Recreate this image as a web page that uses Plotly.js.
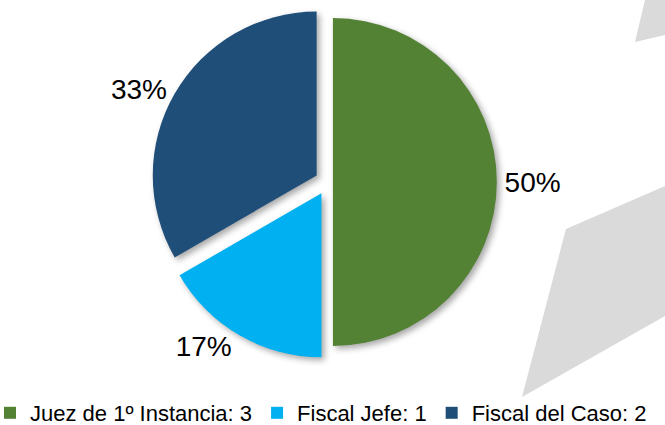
<!DOCTYPE html>
<html>
<head>
<meta charset="utf-8">
<script src="https://cdn.plot.ly/plotly-3.0.1.min.js"></script>
<style>
  html, body { margin: 0; padding: 0; background: #ffffff; }
  #chart { width: 665px; height: 425px; }
  .slice path.surface { filter: drop-shadow(3px 3px 3px rgba(0,0,0,0.35)); }
</style>
</head>
<body>
<div id="chart"></div>
<script>
// ---- data ----
const categories = ["Juez de 1º Instancia", "Fiscal Jefe", "Fiscal del Caso"];
const counts = [3, 1, 2];
const sliceColors = ["#548235", "#00B0F0", "#1F4E79"];
const pulls = [0.03, 0.08, 0.08];

const legendLabels = categories.map((c, i) => c + ": " + counts[i]);

const W = 665, H = 425;
const M = { l: 0, r: 0, t: 0, b: 45 };
const PW = W - M.l - M.r, PH = H - M.t - M.b;
function px(x) { return (x - M.l) / PW; }
function py(y) { return (H - M.b - y) / PH; }
function poly(pts) {
  return pts.map((p, i) => (i ? "L" : "M") + px(p[0]).toFixed(4) + "," + py(p[1]).toFixed(4)).join(" ") + " Z";
}

// pie geometry: centre (328,182), radius incl. max pull ~177 px
const cx = 328, cy = 182, half = 177;

const trace = {
  type: "pie",
  labels: legendLabels,
  values: counts,
  sort: false,
  direction: "clockwise",
  rotation: 0,
  pull: pulls,
  marker: { colors: sliceColors, line: { width: 0 } },
  textposition: "outside",
  texttemplate: "%{percent:.0%}",
  outsidetextfont: { family: "Liberation Sans, Arial, sans-serif", size: 28, color: "#000000" },
  hoverinfo: "skip",
  domain: {
    x: [px(cx - half), px(cx + half)],
    y: [py(cy + half), py(cy - half)]
  }
};

const layout = {
  width: W,
  height: H,
  margin: { l: M.l, r: M.r, t: M.t, b: M.b, autoexpand: false },
  paper_bgcolor: "#ffffff",
  plot_bgcolor: "rgba(0,0,0,0)",
  showlegend: true,
  legend: {
    orientation: "h",
    x: px(-10),
    xanchor: "left",
    y: py(413),
    yanchor: "middle",
    font: { family: "Liberation Sans, Arial, sans-serif", size: 22, color: "#000000" },
    bgcolor: "rgba(0,0,0,0)",
    traceorder: "normal"
  },
  shapes: [
    {
      type: "path", xref: "paper", yref: "paper", layer: "below",
      path: poly([[645, 0], [665, 0], [665, 35], [635, 42]]),
      fillcolor: "#dadada", line: { width: 0 }
    },
    {
      type: "path", xref: "paper", yref: "paper", layer: "below",
      path: poly([[566, 229], [665, 186], [665, 316], [522, 397]]),
      fillcolor: "#dadada", line: { width: 0 }
    }
  ]
};

Plotly.newPlot("chart", [trace], layout, { staticPlot: true, displayModeBar: false });
</script>
</body>
</html>
